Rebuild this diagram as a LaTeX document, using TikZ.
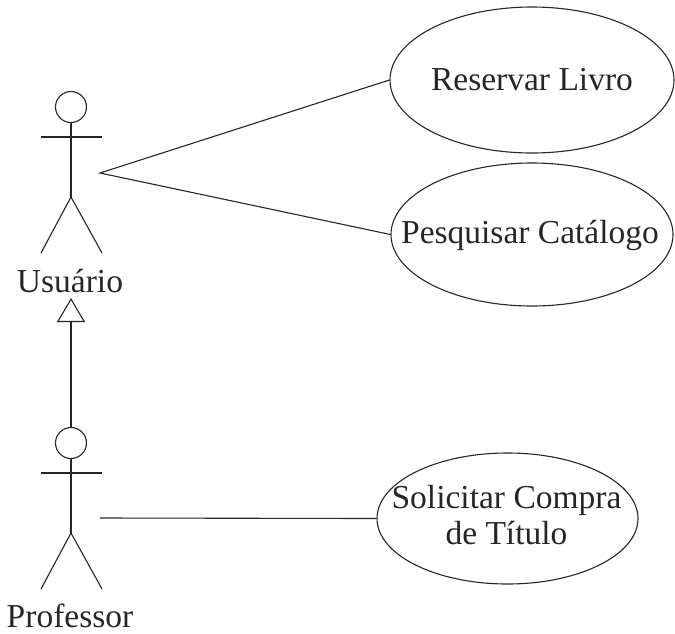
\documentclass[tikz,border=0pt]{standalone}
\usepackage{fontspec}
\setmainfont{Liberation Serif}
\usetikzlibrary{shapes.geometric,arrows.meta,calc}
\tikzset{
  line/.style={line width=1.1pt, draw=black!85},
  usecase/.style={ellipse, line, inner sep=0pt},
  txt/.style={inner sep=0pt, font=\fontsize{33.5}{36}\selectfont, text=black!85},
  gen/.style={line, -{Triangle[open, length=24pt, width=28pt, line width=1.1pt]}},
}
\newcommand{\stickman}[1]{%
  \draw[line] (#1) circle[radius=15.5];
  \draw[line] ($(#1)+(0,15.5)$) -- ($(#1)+(0,90)$);
  \draw[line] ($(#1)+(-30,30)$) -- ($(#1)+(31,30)$);
  \draw[line] ($(#1)+(-30,146)$) -- ($(#1)+(0,90)$) -- ($(#1)+(31,146)$);
}
\begin{document}
\begin{tikzpicture}[x=1pt,y=-1pt]
\useasboundingbox (0,0) rectangle (675,633);
% actors
\coordinate (uhead) at (71,107);
\coordinate (phead) at (71,443);
\stickman{uhead}
\stickman{phead}
\node[txt, anchor=base] (usuario) at (70,292) {Usuário};
\node[txt, anchor=base] (professor) at (70,627) {Professor};
\coordinate (ulink) at (100,173);
\coordinate (plink) at (100,518);
\coordinate (phtop) at (71,427.5);
\coordinate (utip) at (71,298);
% use cases
\node[usecase, minimum width=284, minimum height=146] (reservar) at (532,80) {};
\node[usecase, minimum width=282, minimum height=143] (pesquisar) at (532,234.5) {};
\node[usecase, minimum width=261, minimum height=131] (solicitar) at (507.5,518.5) {};
\node[txt, anchor=base] (treservar) at (532,90) {Reservar Livro};
\node[txt, anchor=base] (tpesquisar) at (530,243) {Pesquisar Catálogo};
\node[txt, align=center] (tsolicitar) at (506.5,515) {Solicitar Compra\\de Título};
% connectors
\draw[line] (reservar.west) -- (ulink) -- (pesquisar.west);
\draw[line] (plink) -- (solicitar.west);
\draw[gen] (phtop) -- (utip);
\end{tikzpicture}
\end{document}
